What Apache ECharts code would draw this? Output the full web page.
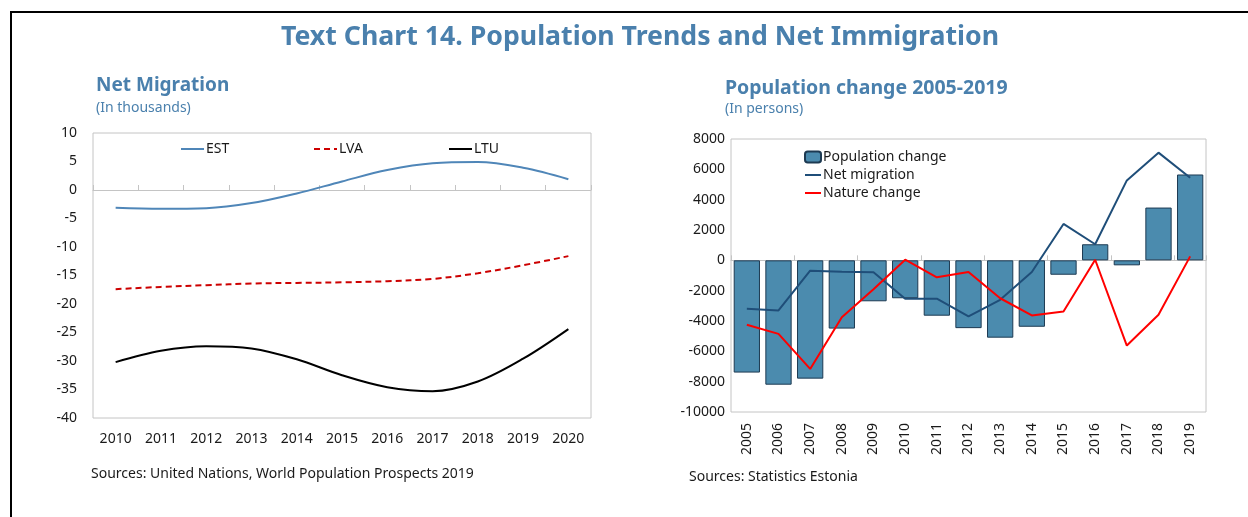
<!DOCTYPE html>
<html>
<head>
<meta charset="utf-8">
<script src="https://cdn.jsdelivr.net/npm/echarts@6/dist/echarts.min.js"></script>
<style>
  html, body { margin: 0; padding: 0; background: #fff; }
  #chart { width: 1248px; height: 517px; }
</style>
</head>
<body>
<div id="chart"></div>
<script>
// left panel: net migration, thousands
const migYears = ['2010', '2011', '2012', '2013', '2014', '2015', '2016', '2017', '2018', '2019', '2020'];
const est = [-3.1, -3.3, -3.2, -2.3, -0.6, 1.5, 3.5, 4.7, 4.9, 3.9, 1.9];
const lva = [-17.4, -17.0, -16.7, -16.4, -16.3, -16.2, -16.0, -15.6, -14.6, -13.2, -11.6];
const ltu = [-30.2, -28.2, -27.4, -27.8, -29.7, -32.5, -34.6, -35.3, -33.6, -29.6, -24.4];

// right panel: Estonia population change, persons
const popYears = ['2005', '2006', '2007', '2008', '2009', '2010', '2011', '2012', '2013', '2014', '2015', '2016', '2017', '2018', '2019'];
const popChange = [-7400, -8200, -7800, -4500, -2700, -2500, -3650, -4470, -5100, -4380, -950, 1060, -330, 3480, 5660];
const netMigration = [-3200, -3300, -680, -750, -780, -2530, -2530, -3700, -2600, -770, 2400, 1060, 5270, 7100, 5440];
const natureChange = [-4250, -4850, -7160, -3750, -1900, 40, -1120, -770, -2500, -3630, -3370, 40, -5620, -3590, 260];

const FONT = 'Noto Sans';
const TITLE_BLUE = '#4a80ad';
const GRID_GREY = '#c4c4c4';
const labelStyle = { color: '#1a1a1a', fontSize: 14, fontFamily: FONT };

const chart = echarts.init(document.getElementById('chart'));

// line legend entries: hide the symbol dot, keep the line
const lineEntry = name => ({ name, itemStyle: { opacity: 0 } });

const option = {
  backgroundColor: '#fff',
  animation: false,
  textStyle: { fontFamily: FONT },
  title: [
    {
      text: 'Text Chart 14. Population Trends and Net Immigration',
      left: 635, top: 19, textAlign: 'center',
      textStyle: { color: TITLE_BLUE, fontSize: 26.7, fontWeight: 'bold', fontFamily: FONT }
    },
    {
      text: 'Net Migration',
      subtext: '(In thousands)',
      left: 91, top: 71, itemGap: 6,
      textStyle: { color: TITLE_BLUE, fontSize: 19, fontWeight: 'bold', fontFamily: FONT },
      subtextStyle: { color: TITLE_BLUE, fontSize: 14, fontFamily: FONT }
    },
    {
      text: 'Population change 2005-2019',
      subtext: '(In persons)',
      left: 720, top: 73, itemGap: 4,
      textStyle: { color: TITLE_BLUE, fontSize: 19.5, fontWeight: 'bold', fontFamily: FONT },
      subtextStyle: { color: TITLE_BLUE, fontSize: 14, fontFamily: FONT }
    },
    {
      text: 'Sources: United Nations, World Population Prospects 2019',
      left: 86, top: 462,
      textStyle: { color: '#1a1a1a', fontSize: 14, fontWeight: 'normal', fontFamily: FONT }
    },
    {
      text: 'Sources: Statistics Estonia',
      left: 684, top: 465,
      textStyle: { color: '#1a1a1a', fontSize: 14, fontWeight: 'normal', fontFamily: FONT }
    }
  ],
  graphic: [
    {
      type: 'rect',
      shape: { x: 11, y: 12, width: 1400, height: 700 },
      style: { fill: 'none', stroke: '#000', lineWidth: 2 },
      silent: true
    }
  ],
  legend: [
    {
      data: [lineEntry('EST')], left: 175, top: 137, itemWidth: 23, itemHeight: 12,
      textStyle: { ...labelStyle, padding: [0, 0, 0, -3] }
    },
    {
      data: [lineEntry('LVA')], left: 308, top: 137, itemWidth: 23, itemHeight: 12,
      textStyle: { ...labelStyle, padding: [0, 0, 0, -3] }
    },
    {
      data: [lineEntry('LTU')], left: 443, top: 137, itemWidth: 23, itemHeight: 12,
      textStyle: { ...labelStyle, padding: [0, 0, 0, -3] }
    },
    {
      data: ['Population change', lineEntry('Net migration'), lineEntry('Nature change')],
      orient: 'vertical', left: 799, top: 145, itemGap: 4,
      itemWidth: 16, itemHeight: 11,
      textStyle: { color: '#1a1a1a', fontSize: 14, fontFamily: FONT, padding: [0, 0, 0, -3] }
    }
  ],
  grid: [
    { left: 93, top: 133, width: 498, height: 285, show: true, borderColor: GRID_GREY, borderWidth: 1 },
    { left: 731, top: 139, width: 475, height: 273, show: true, borderColor: GRID_GREY, borderWidth: 1 }
  ],
  xAxis: [
    // left: labels at the bottom
    {
      type: 'category', gridIndex: 0, data: migYears, position: 'bottom',
      axisLine: { show: false, onZero: false },
      axisTick: { show: false },
      axisLabel: { ...labelStyle, margin: 14 }
    },
    // left: zero line with ticks
    {
      type: 'category', gridIndex: 0, data: migYears, position: 'bottom',
      axisLine: { show: true, onZero: true, lineStyle: { color: GRID_GREY, width: 1 } },
      axisTick: { show: true, inside: true, length: 5, lineStyle: { color: GRID_GREY } },
      axisLabel: { show: false }
    },
    // right: labels at the bottom
    {
      type: 'category', gridIndex: 1, data: popYears, position: 'bottom',
      axisLine: { show: false, onZero: false },
      axisTick: { show: false },
      axisLabel: { ...labelStyle, rotate: 90, margin: 11 }
    },
    // right: zero line with ticks
    {
      type: 'category', gridIndex: 1, data: popYears, position: 'bottom',
      axisLine: { show: true, onZero: true, lineStyle: { color: GRID_GREY, width: 1 } },
      axisTick: { show: true, inside: true, length: 5, lineStyle: { color: GRID_GREY } },
      axisLabel: { show: false }
    }
  ],
  yAxis: [
    {
      type: 'value', gridIndex: 0, min: -40, max: 10, interval: 5,
      axisLine: { show: false }, axisTick: { show: false }, splitLine: { show: false },
      axisLabel: { ...labelStyle, margin: 16 }
    },
    {
      type: 'value', gridIndex: 1, min: -10000, max: 8000, interval: 2000,
      axisLine: { show: false }, axisTick: { show: false }, splitLine: { show: false },
      axisLabel: { ...labelStyle, margin: 6, formatter: v => String(v) }
    }
  ],
  series: [
    {
      name: 'EST', type: 'line', xAxisIndex: 0, yAxisIndex: 0, data: est,
      smooth: 0.35, symbol: 'none',
      lineStyle: { color: '#4f86b8', width: 2 }, itemStyle: { color: '#4f86b8' }
    },
    {
      name: 'LVA', type: 'line', xAxisIndex: 0, yAxisIndex: 0, data: lva,
      smooth: 0.35, symbol: 'none',
      lineStyle: { color: '#cc0000', width: 2, type: [6, 4] }, itemStyle: { color: '#cc0000' }
    },
    {
      name: 'LTU', type: 'line', xAxisIndex: 0, yAxisIndex: 0, data: ltu,
      smooth: 0.35, symbol: 'none',
      lineStyle: { color: '#000', width: 2 }, itemStyle: { color: '#000' }
    },
    {
      name: 'Population change', type: 'bar', xAxisIndex: 2, yAxisIndex: 1, data: popChange,
      barCategoryGap: '17%',
      itemStyle: { color: '#4b8bae', borderColor: '#1d3a52', borderWidth: 1 }
    },
    {
      name: 'Net migration', type: 'line', xAxisIndex: 2, yAxisIndex: 1, data: netMigration,
      symbol: 'none',
      lineStyle: { color: '#1f4e79', width: 2 }, itemStyle: { color: '#1f4e79' }
    },
    {
      name: 'Nature change', type: 'line', xAxisIndex: 2, yAxisIndex: 1, data: natureChange,
      symbol: 'none',
      lineStyle: { color: '#ff0000', width: 2 }, itemStyle: { color: '#ff0000' }
    }
  ]
};

chart.setOption(option);
</script>
</body>
</html>
